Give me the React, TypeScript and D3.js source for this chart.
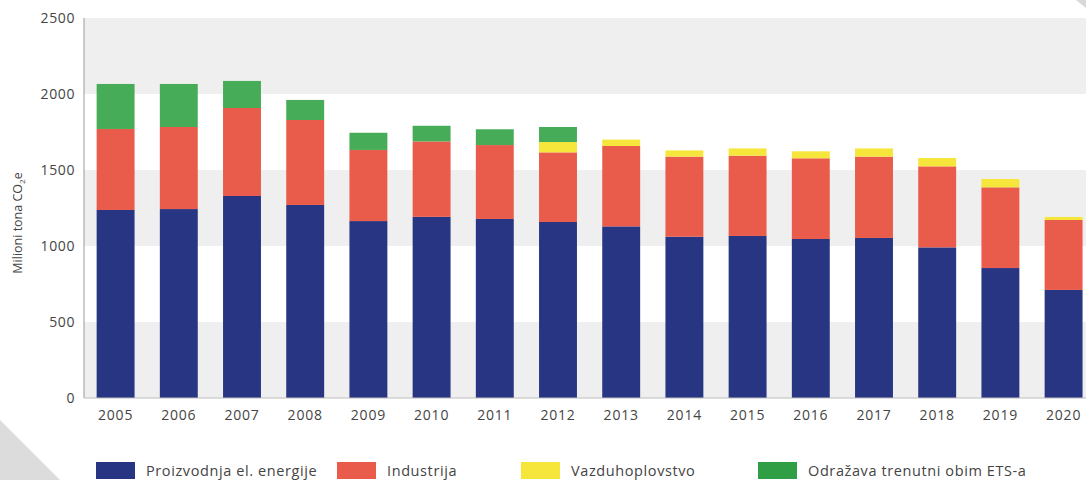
import React from 'react';
import * as d3 from 'd3';

const years = ['2005', '2006', '2007', '2008', '2009', '2010', '2011', '2012', '2013', '2014', '2015', '2016', '2017', '2018', '2019', '2020'];
const power = [1237, 1243, 1329, 1270, 1164, 1192, 1178, 1158, 1129, 1061, 1066, 1046, 1053, 991, 855, 711];
const industry = [533, 540, 579, 559, 468, 496, 486, 458, 529, 527, 528, 531, 535, 533, 531, 460];
const aviation = [0, 0, 0, 0, 0, 0, 0, 68, 42, 41, 48, 46, 54, 55, 55, 20];
const etsScope = [296, 283, 178, 132, 113, 103, 104, 99, 0, 0, 0, 0, 0, 0, 0, 0];
const yTicks = [0, 500, 1000, 1500, 2000, 2500];

const seriesKeys = ['power', 'industry', 'aviation', 'ets'];
const seriesNames = ['Proizvodnja el. energije', 'Industrija', 'Vazduhoplovstvo', 'Odražava trenutni obim ETS-a'];
const colors = ['#283583', '#e95c4b', '#f6e63c', '#47ac58'];
const legendColors = ['#283583', '#e95c4b', '#f6e63c', '#2f9e45'];

const W = 1086;
const H = 480;
const left = 84;
const top = 18;
const bottom = 398;

export default function App() {
  const rows = years.map((y, i) => ({
    year: y,
    power: power[i],
    industry: industry[i],
    aviation: aviation[i],
    ets: etsScope[i],
  }));
  const stacked = d3.stack<any>().keys(seriesKeys)(rows);

  const x = d3.scaleBand().domain(years).range([left, left + 63.2 * years.length]).paddingInner(0.4).paddingOuter(0.2);
  const y = d3.scaleLinear().domain([0, 2500]).range([bottom, top]);
  const font = "'Open Sans', sans-serif";

  const legendX = [96, 337, 521, 758];

  return (
    <div style={{ position: 'absolute', left: 0, top: 0 }}>
      <svg width={W} height={H} style={{ display: 'block' }}>
        <rect x={0} y={0} width={W} height={H} fill="#fff" />
        {/* decorative corners */}
        <polygon points={`0,420 0,${H} 60,${H}`} fill="#dcdcdc" />
        <polygon points={`1076,0 ${W},0 ${W},8`} fill="#d8d8d8" />

        {/* alternating bands */}
        {yTicks.slice(0, -1).map((t, i) =>
          i % 2 === 0 ? (
            <rect key={t} x={left} y={y(t + 500)} width={W - left} height={y(t) - y(t + 500)} fill="#efefef" />
          ) : null
        )}

        {stacked.map((s, si) => (
          <g key={s.key} fill={colors[si]}>
            {s.map((d, i) =>
              d[1] - d[0] > 0 ? (
                <rect key={i} x={x(years[i])} y={y(d[1])} width={x.bandwidth()} height={y(d[0]) - y(d[1])} />
              ) : null
            )}
          </g>
        ))}

        <line x1={left} x2={left} y1={top} y2={bottom} stroke="#9a9a9a" strokeWidth={1} />
        <line x1={left} x2={W} y1={bottom} y2={bottom} stroke="#bdbdbd" strokeWidth={1} />

        {yTicks.map((t) => (
          <text key={t} x={75} y={y(t)} dy="0.35em" textAnchor="end" fontFamily={font} fontSize={14} letterSpacing={0.6} fill="#444">
            {t}
          </text>
        ))}
        {years.map((yr) => (
          <text key={yr} x={(x(yr) as number) + x.bandwidth() / 2} y={420} textAnchor="middle" fontFamily={font} fontSize={14} letterSpacing={0.8} fill="#444">
            {yr}
          </text>
        ))}

        <text transform={`translate(22,${(top + bottom) / 2 + 15}) rotate(-90)`} textAnchor="middle" fontFamily={font} fontSize={12.5} fill="#444">
          Milioni tona CO<tspan fontSize={8} dy="3">2</tspan>
          <tspan dy="-3">e</tspan>
        </text>

        {seriesNames.map((n, i) => (
          <g key={n} transform={`translate(${legendX[i]},462)`}>
            <rect x={0} y={0} width={39} height={17} fill={legendColors[i]} />
            <text x={50} y={9} dy="0.35em" fontFamily={font} fontSize={14.5} letterSpacing={0.6} fill="#444">
              {n}
            </text>
          </g>
        ))}
      </svg>
    </div>
  );
}
